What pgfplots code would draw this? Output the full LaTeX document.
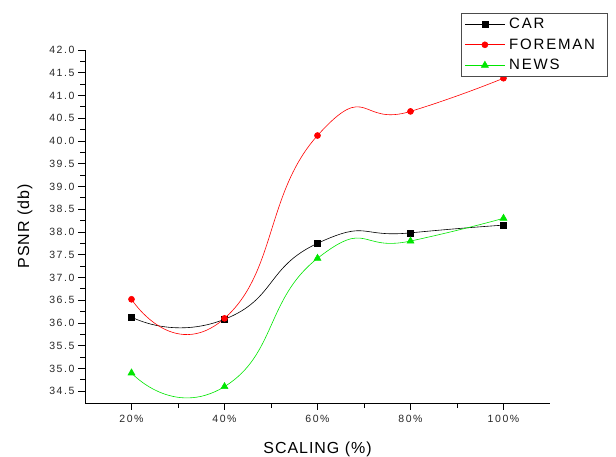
\documentclass[border=0pt]{standalone}
\usepackage{pgfplots}
\pgfplotsset{compat=1.18}
\usepackage{fontspec}
\setmainfont{Liberation Sans}
\newfontfamily\tickfont[LetterSpace=15]{Liberation Sans}
\newfontfamily\labfont[LetterSpace=6]{Liberation Sans}
\newfontfamily\legfont[LetterSpace=12]{Liberation Sans}
\definecolor{cgreen}{RGB}{0,230,0}
\begin{document}
\begin{tikzpicture}[x=1pt,y=1pt]
\path[use as bounding box] (0,0) rectangle (616,457);
\begin{axis}[
  at={(85pt,54pt)}, anchor=south west,
  scale only axis, width=465pt, height=353pt,
  xmin=10, xmax=110, ymin=34.24, ymax=42.0,
  axis x line*=bottom, axis y line*=left,
  xtick={20,40,60,80,100},
  xticklabels={20\%,40\%,60\%,80\%,100\%},
  minor xtick={30,50,70,90},
  ytick={34.5,35,...,42.01},
  minor ytick={34.75,35.25,...,41.8},
  tick align=outside,
  major tick length=7pt, minor tick length=5pt,
  every tick/.style={black, line width=0.8pt},
  axis line style={line width=0.9pt},
  y tick label style={/pgf/number format/.cd, fixed, fixed zerofill, precision=1, /tikz/.cd},
  /pgf/number format/assume math mode=true,
  tick label style={font=\tickfont\fontsize{10.5}{12}\selectfont, text=black!85},
  x tick label style={yshift=-2pt},
  xlabel={SCALING (\%)}, ylabel={PSNR (db)},
  label style={font=\labfont\fontsize{16}{18}\selectfont},
  xlabel style={yshift=-12pt},
  ylabel style={yshift=10pt},
  legend style={at={(rel axis cs:0.809,1.105)}, anchor=north west,
    draw=black!70, line width=0.8pt, font=\legfont\fontsize{15}{17}\selectfont,
    row sep=4.5pt, inner ysep=3pt, inner xsep=3pt, text width=91pt,
    nodes={inner xsep=4pt}},
  legend image code/.code={
    \draw[mark repeat=2,mark phase=2,#1] plot coordinates {(0pt,0pt) (20pt,0pt) (40pt,0pt)};},
  legend cell align=left,
  clip=false,
]
\addplot[black, line width=0.6pt, smooth, tension=1.0, mark=square*, mark size=3pt]
  coordinates {(20,36.13) (40,36.08) (60,37.75) (80,37.98) (100,38.15)};
\addlegendentry{CAR}
\addplot[red, line width=0.6pt, smooth, tension=1.0, mark=*, mark size=3pt]
  coordinates {(20,36.52) (40,36.10) (60,40.12) (80,40.65) (100,41.38)};
\addlegendentry{FOREMAN}
\addplot[cgreen, line width=0.6pt, smooth, tension=1.0, mark=triangle*, mark size=4pt]
  coordinates {(20,34.90) (40,34.60) (60,37.42) (80,37.80) (100,38.30)};
\addlegendentry{NEWS}
\end{axis}
\end{tikzpicture}
\end{document}
